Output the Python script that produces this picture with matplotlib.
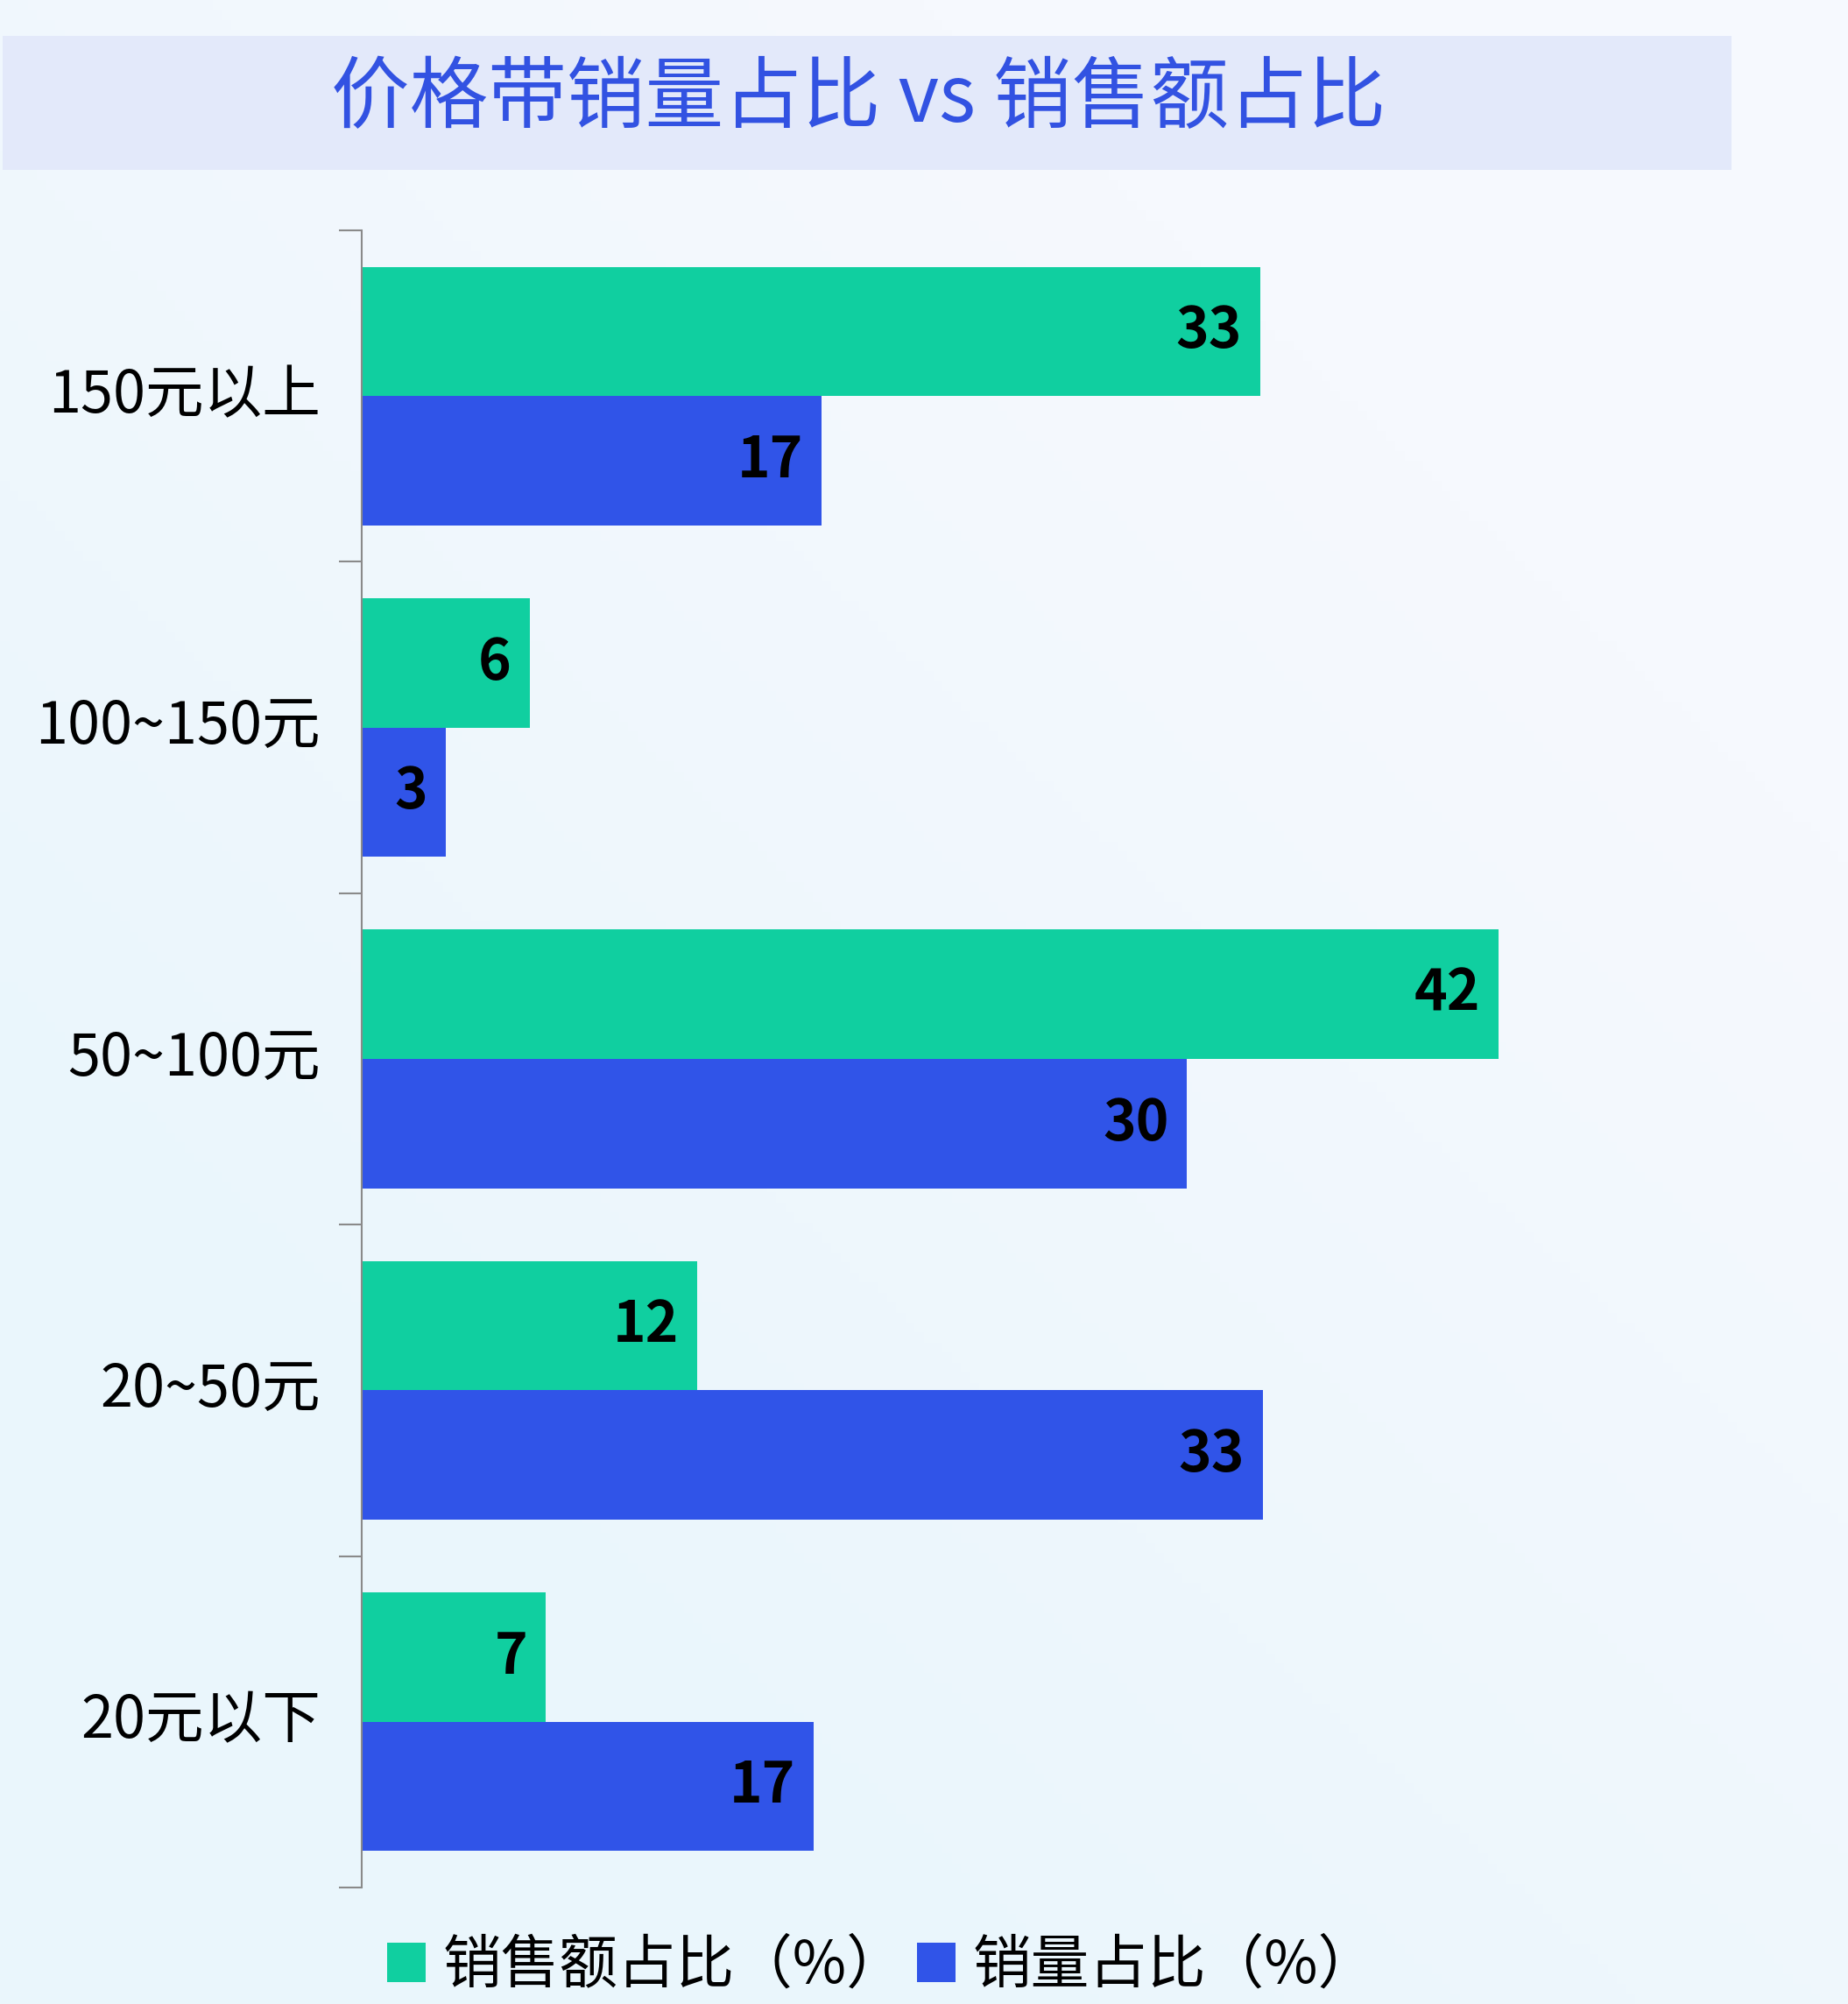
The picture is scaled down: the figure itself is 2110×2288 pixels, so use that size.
import matplotlib
matplotlib.use("Agg")
import matplotlib.pyplot as plt
from matplotlib.patches import Rectangle
import numpy as np

plt.rcParams['font.family'] = ['Noto Sans CJK SC', 'DejaVu Sans']

# data (top to bottom)
categories = ['150元以上', '100~150元', '50~100元', '20~50元', '20元以下']
sales_share = [33.2, 6.2, 42.0, 12.4, 6.8]     # 销售额占比（%）
volume_share = [17.0, 3.1, 30.5, 33.3, 16.7]   # 销量占比（%）
series_names = ['销售额占比（%）', '销量占比（%）']
title = '价格带销量占比 vs 销售额占比'

green = '#10CFA0'
blue = '#3054E8'
bg = '#F5F9FD'

W, H = 2110, 2288
fig = plt.figure(figsize=(W / 100, H / 100), dpi=100, facecolor=bg)

# soft background gradient: cyan-ish bottom-left -> near white top-right
bg_ax = fig.add_axes([0, 0, 1, 1], zorder=-1)
gx, gy = np.meshgrid(np.linspace(0, 1, 200), np.linspace(0, 1, 200))
t = np.clip((1 - gx) * 0.6 + gy * 0.7, 0, 1)  # gy=1 at bottom (origin upper)
c_top = np.array([0xF6, 0xF9, 0xFE]) / 255
c_bot = np.array([0xEA, 0xF6, 0xFC]) / 255
t = np.clip(t - 0.3, 0, 1) / 0.7
img = c_top[None, None, :] * (1 - t[..., None]) + c_bot[None, None, :] * t[..., None]
bg_ax.imshow(img, aspect='auto', extent=(0, 1, 0, 1), origin='upper')
bg_ax.axis('off')

# title band
fig.patches.append(Rectangle((3 / W, 1 - 194 / H), (1977 - 3) / W, (194 - 41) / H,
                             transform=fig.transFigure, facecolor='#E3E9FA',
                             edgecolor='none', zorder=1))
fig.text(980 / W, 1 - 114 / H, title, ha='center', va='center',
         fontsize=64.5, color='#3252E2', zorder=2)

ax = fig.add_axes([413 / W, 1 - 2155 / H, 1545 / W, (2155 - 263) / H])
ax.set_facecolor('none')

y = np.arange(len(categories))
h = 0.39
b1 = ax.barh(y - h / 2, sales_share, height=h, color=green, label=series_names[0])
b2 = ax.barh(y + h / 2, volume_share, height=h, color=blue, label=series_names[1])

for bars, vals in ((b1, sales_share), (b2, volume_share)):
    for bar, v in zip(bars, vals):
        ax.annotate(f'{v:.0f}', (bar.get_width(), bar.get_y() + bar.get_height() / 2),
                    xytext=(-15, 0), textcoords='offset points',
                    ha='right', va='center', fontsize=46, fontweight='heavy',
                    color='black')

ax.set_xlim(0, 50)
ax.set_ylim(len(categories) - 0.5, -0.5)
ax.xaxis.set_visible(False)

# ticks on category boundaries, labels at centers
ax.set_yticks(np.arange(-0.5, len(categories), 1.0))
ax.set_yticklabels([])
ax.set_yticks(y - 0.02, minor=True)
ax.set_yticklabels(categories, minor=True, fontsize=48)
ax.tick_params(axis='y', which='major', length=19, width=1.5, color='#8a8a8a', direction='out')
ax.tick_params(axis='y', which='minor', length=0, pad=34)

for s in ('top', 'right', 'bottom'):
    ax.spines[s].set_visible(False)
ax.spines['left'].set_color('#8a8a8a')
ax.spines['left'].set_linewidth(1.5)

fig.legend(handles=[b1, b2], labels=series_names, loc='center',
           bbox_to_anchor=(1007 / W, 1 - 2245 / H), ncol=2, frameon=False,
           fontsize=48, handlelength=0.66, handleheight=0.66,
           handletextpad=0.3, columnspacing=0.2)

fig.savefig('out.png', dpi=100, facecolor=bg)
